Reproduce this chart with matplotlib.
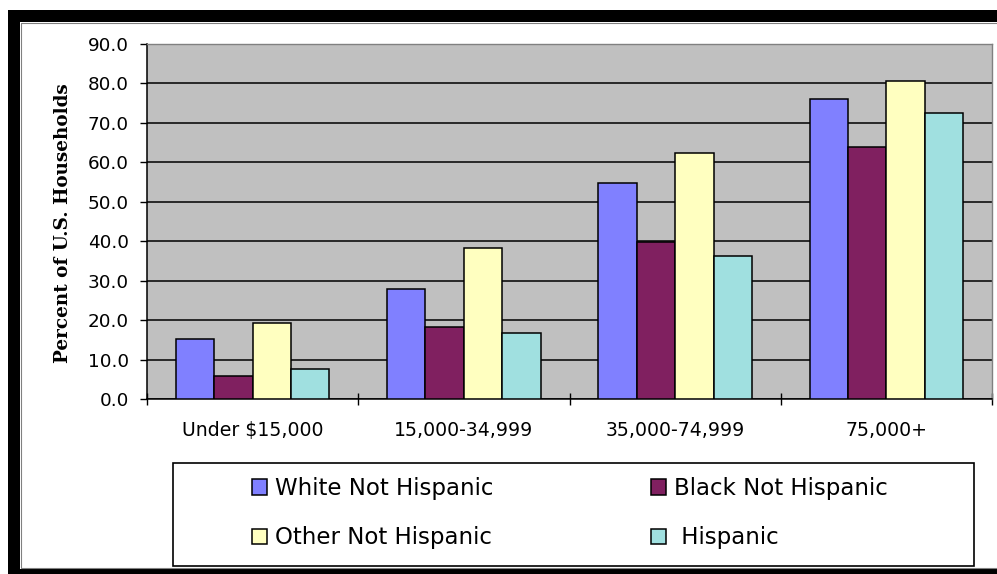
import matplotlib
matplotlib.use("Agg")
import matplotlib.pyplot as plt
from matplotlib.patches import Rectangle, Patch
from matplotlib.lines import Line2D
from matplotlib.ticker import FormatStrFormatter
import numpy as np

# data
categories = ["Under $15,000", "15,000-34,999", "35,000-74,999", "75,000+"]
white_not_hispanic = [15.1, 27.8, 54.7, 76.1]
black_not_hispanic = [5.9, 18.2, 39.9, 63.9]
other_not_hispanic = [19.2, 38.4, 62.3, 80.6]
hispanic = [7.5, 16.7, 36.3, 72.4]

series = [
    ("White Not Hispanic", white_not_hispanic, "#8080FF"),
    ("Black Not Hispanic", black_not_hispanic, "#802060"),
    ("Other Not Hispanic", other_not_hispanic, "#FFFFC0"),
    (" Hispanic", hispanic, "#A0E0E0"),
]

W, H = 997, 574
fig = plt.figure(figsize=(W / 100, H / 100), dpi=100)
fig.patch.set_facecolor("white")

# plot area in pixel terms -> figure fraction
left, right, top, bottom = 147, 992, 44, 399
ax = fig.add_axes([left / W, 1 - bottom / H, (right - left) / W, (bottom - top) / H])
ax.set_facecolor("#C0C0C0")

x = np.arange(len(categories))
bw = 1 / 5.5
for i, (name, vals, col) in enumerate(series):
    ax.bar(x + (i - 1.5) * bw, vals, bw, color=col, edgecolor="black",
           linewidth=1.1, label=name, zorder=3)

ax.set_xlim(-0.5, len(categories) - 0.5)
ax.set_ylim(0, 90)
ax.set_yticks(np.arange(0, 91, 10))
ax.yaxis.set_major_formatter(FormatStrFormatter("%.1f"))
ax.yaxis.grid(True, color="black", linewidth=1.1, zorder=1)
ax.set_axisbelow(True)

# category separators as major ticks, labels on minor ticks
ax.set_xticks(np.arange(-0.5, len(categories)), [""] * (len(categories) + 1))
ax.set_xticks(x, categories, minor=True)
ax.tick_params(axis="x", which="major", direction="inout", length=8.5, width=1)
ax.tick_params(axis="x", which="minor", length=0, pad=16, labelsize=13.6)
ax.tick_params(axis="y", direction="out", length=5, width=1, labelsize=13.2, pad=8)
for lab in ax.get_xticklabels(minor=True) + ax.get_yticklabels():
    lab.set_fontfamily("DejaVu Sans")
    lab.set_color("black")

for s in ["top", "right"]:
    ax.spines[s].set_color("#808080")
    ax.spines[s].set_linewidth(1)
for s in ["left", "bottom"]:
    ax.spines[s].set_color("black")
    ax.spines[s].set_linewidth(1.1)

ax.set_ylabel("Percent of U.S. Households", fontfamily="DejaVu Serif",
              fontweight="bold", fontsize=13.2)
ax.yaxis.set_label_coords((72 - left) / (right - left), (bottom - 223) / (bottom - top))

# legend: frame drawn separately, entries placed with legend()
fig.patches.append(Rectangle((173 / W, 1 - 566 / H), (974 - 173) / W, (566 - 463) / H,
                             transform=fig.transFigure, fill=False,
                             edgecolor="black", linewidth=1.2))
handles = [Patch(facecolor=c, edgecolor="black", linewidth=1.1, label=n) for n, _, c in series]
# legend fills column by column; reorder so rows read White/Black, Other/Hispanic
handles = [handles[0], handles[2], handles[1], handles[3]]
fig.legend(handles=handles, ncol=2, loc="upper left",
           bbox_to_anchor=(252 / W, 1 - 477 / H), frameon=False, borderpad=0,
           prop={"family": "DejaVu Sans", "size": 16.5},
           handlelength=0.65, handleheight=0.65, handletextpad=0.35,
           columnspacing=6.9, labelspacing=1.15, borderaxespad=0)

# outer black frame of the original chart object
frame = [(8, 10, 12, 564), (8, 10, 989, 12), (8, 569, 989, 5)]
for fx, fy, fw, fh in frame:
    fig.patches.append(Rectangle((fx / W, 1 - (fy + fh) / H), fw / W, fh / H,
                                 transform=fig.transFigure, facecolor="black",
                                 edgecolor="none"))
# thin grey inner edge along left, top and bottom
gx = [W, 20.5, 20.5, W]
gy = [22.5, 22.5, 567.5, 567.5]
fig.lines.append(Line2D([v / W for v in gx], [1 - v / H for v in gy],
                        transform=fig.transFigure, color="#808080", linewidth=0.8))

fig.savefig("out.png", dpi=100)
